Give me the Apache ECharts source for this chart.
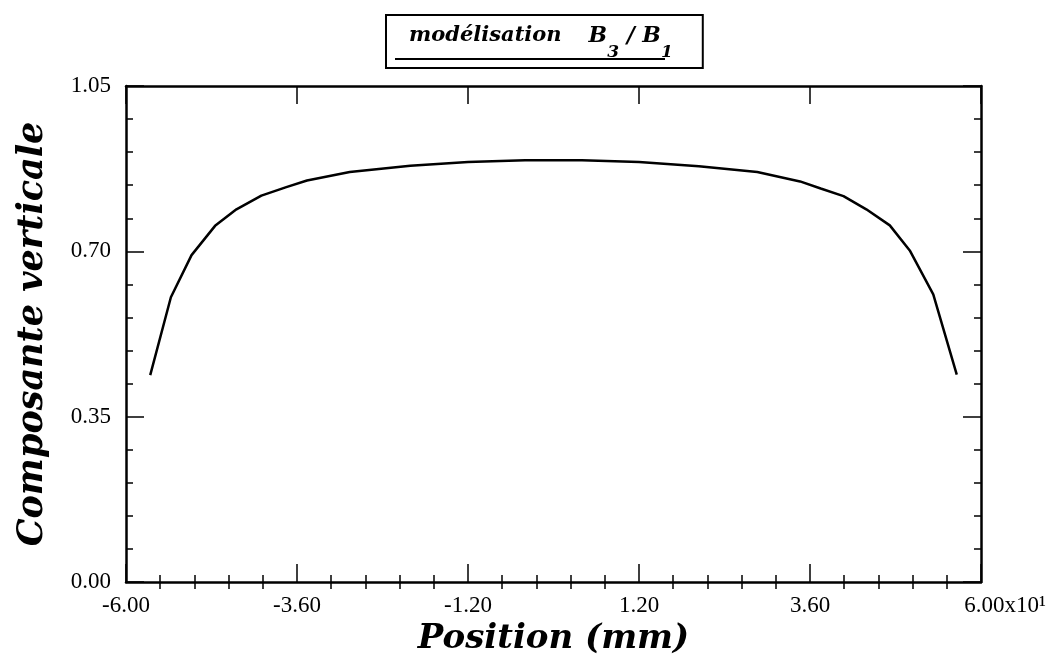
<!DOCTYPE html>
<html>
<head>
<meta charset="utf-8">
<script src="https://cdn.jsdelivr.net/npm/echarts@6/dist/echarts.min.js"></script>
<style>
html,body{margin:0;padding:0;background:#fff;}
#main{width:1057px;height:661px;}
</style>
</head>
<body>
<div id="main"></div>
<script>
// ---- data (positions in units of 10 mm) ----
const positions = [-5.66, -5.37, -5.08, -4.75, -4.45, -4.10, -3.75, -3.46, -2.86, -2.01, -1.20, -0.40,
                    0.40, 1.20, 2.04, 2.86, 3.46, 3.75, 4.07, 4.39, 4.72, 5.00, 5.33, 5.66];
const verticalComp = [0.438, 0.603, 0.692, 0.754, 0.789, 0.818, 0.836, 0.850, 0.868, 0.881, 0.889, 0.893,
                      0.893, 0.889, 0.880, 0.868, 0.848, 0.833, 0.817, 0.789, 0.755, 0.702, 0.609, 0.439];
const xMajorTicks = [-6, -3.6, -1.2, 1.2, 3.6, 6];
const yMajorTicks = [0, 0.35, 0.70, 1.05];
const seriesName = 'modélisation B3 / B1';

// minor x ticks: 5 subdivisions between major ticks
const xMinorTicks = [];
for (let i = 0; i < xMajorTicks.length - 1; i++) {
  const a = xMajorTicks[i], b = xMajorTicks[i + 1];
  for (let k = 1; k < 5; k++) xMinorTicks.push(+(a + (b - a) * k / 5).toFixed(4));
}

const serif = 'Liberation Serif';
const titleFont = 'DejaVu Serif';
const black = '#000';
const labelSize = 23;

function xMajorAxis(pos, labels) {
  return {
    type: 'value', position: pos, min: -6, max: 6,
    axisLine: { show: true, onZero: false, lineStyle: { color: black, width: 2.5 } },
    axisTick: { show: true, inside: true, length: 18, customValues: xMajorTicks, lineStyle: { color: black, width: 1.5 } },
    axisLabel: labels ? {
      show: true, customValues: xMajorTicks, margin: 12,
      fontFamily: serif, fontSize: labelSize, color: black,
      formatter: v => Math.abs(v - 6) < 1e-9 ? '{pad|}6.00{e|x10¹}' : v.toFixed(2),
      rich: {
        pad: { width: 48, fontFamily: serif, fontSize: labelSize },
        e: { fontFamily: serif, fontSize: labelSize, color: black }
      }
    } : { show: false },
    splitLine: { show: false }
  };
}
function xMinorAxis(pos) {
  return {
    type: 'value', position: pos, min: -6, max: 6,
    axisLine: { show: false },
    axisTick: { show: true, inside: true, length: 7, customValues: xMinorTicks, lineStyle: { color: black, width: 1.5 } },
    axisLabel: { show: false },
    splitLine: { show: false }
  };
}
function yAxisDef(pos, labels) {
  return {
    type: 'value', position: pos, min: yMajorTicks[0], max: yMajorTicks[yMajorTicks.length - 1], interval: 0.35,
    axisLine: { show: true, onZero: false, lineStyle: { color: black, width: 2.5 } },
    axisTick: { show: true, inside: true, length: 18, lineStyle: { color: black, width: 1.5 } },
    minorTick: { show: true, splitNumber: 5, length: 7, lineStyle: { color: black, width: 1.5 } },
    axisLabel: labels ? {
      show: true, margin: 15, fontFamily: serif, fontSize: labelSize, color: black,
      formatter: v => v.toFixed(2)
    } : { show: false },
    splitLine: { show: false },
    minorSplitLine: { show: false }
  };
}

const xBottom = xMajorAxis('bottom', true);
xBottom.name = 'Position (mm)';
xBottom.nameLocation = 'middle';
xBottom.nameGap = 35;
xBottom.nameTextStyle = { fontFamily: titleFont, fontStyle: 'italic', fontWeight: 'bold', fontSize: 34, color: black };

const yLeft = yAxisDef('left', true);
yLeft.name = 'Composante verticale';
yLeft.nameLocation = 'middle';
yLeft.nameGap = 76;
yLeft.nameTextStyle = { fontFamily: titleFont, fontStyle: 'italic', fontWeight: 'bold', fontSize: 35, color: black };

const bi = { fontFamily: titleFont, fontStyle: 'italic', fontWeight: 'bold', color: black, verticalAlign: 'top' };

const chart = echarts.init(document.getElementById('main'), null, { renderer: 'canvas' });
chart.setOption({
  backgroundColor: '#fff',
  animation: false,
  grid: { left: 126, right: 76, top: 86, bottom: 78, containLabel: false },
  legend: {
    show: true, left: 386, top: 15, selectedMode: false,
    data: [seriesName],
    icon: 'none', itemWidth: 0, itemHeight: 0, itemGap: 0,
    padding: [10, 29, 7, 4],
    borderColor: black, borderWidth: 2,
    textStyle: {
      color: black,
      rich: {
        t: Object.assign({}, bi, { fontSize: 21, lineHeight: 26, padding: [0, 0, 0, 14] }),
        b0: Object.assign({}, bi, { fontSize: 22, lineHeight: 26, padding: [0, 0, 0, 4] }),
        b: Object.assign({}, bi, { fontSize: 22, lineHeight: 26 }),
        s: Object.assign({}, bi, { fontSize: 17, lineHeight: 26, padding: [19, 0, 0, 0] }),
        sp: { width: 1, lineHeight: 33, verticalAlign: 'top', fontSize: 2 },
        u: { width: 270, height: 2, lineHeight: 2, backgroundColor: black, fontSize: 2 }
      }
    },
    formatter: () => '{t|modélisation}{b0|   B}{s|3}{b| / B}{s|1}{sp| }\n{u| }'
  },
  xAxis: [xBottom, xMinorAxis('bottom'), xMajorAxis('top', false), xMinorAxis('top')],
  yAxis: [yLeft, yAxisDef('right', false)],
  series: [{
    name: seriesName, type: 'line', xAxisIndex: 0, yAxisIndex: 0,
    data: positions.map((x, i) => [x, verticalComp[i]]),
    showSymbol: false, symbol: 'none', smooth: false,
    lineStyle: { color: black, width: 2.5 },
    itemStyle: { color: black }
  }]
});
</script>
</body>
</html>
